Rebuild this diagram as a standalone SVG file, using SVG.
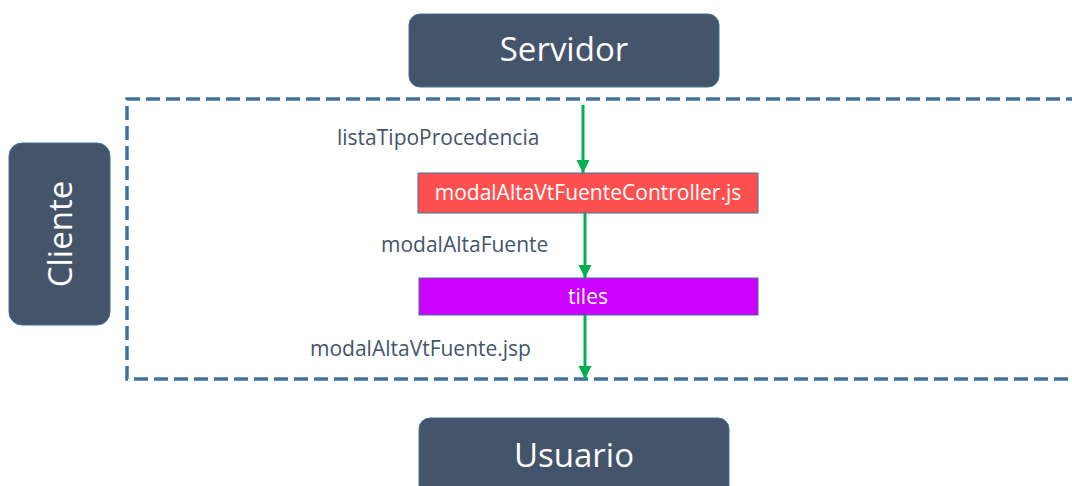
<svg xmlns="http://www.w3.org/2000/svg" width="1072" height="486" viewBox="0 0 1072 486">
<style>
.actor{fill:#44546A;stroke:#41719C;stroke-width:1}
.atext{fill:#fff;font-family:"Open Sans","Noto Sans",sans-serif;font-size:33px}
.lbl{fill:#44546A;font-family:"Open Sans","Noto Sans",sans-serif;font-size:21px}
.btext{fill:#fff;font-family:"Open Sans","Noto Sans",sans-serif;font-size:21px}
.flow{stroke:#00B050;stroke-width:3;fill:none}
</style>
<defs>
<marker id="ah" viewBox="0 0 10 10" refX="10" refY="5" markerWidth="4.5" markerHeight="4.5" markerUnits="strokeWidth" orient="auto">
<path d="M0,0 L10,5 L0,10 z" fill="#00B050"/>
</marker>
</defs>
<rect width="1072" height="486" fill="#fff"/>
<g id="cliente-zone">
<path d="M1080,99 L127,99 L127,379 L1080,379" fill="none" stroke="#41719C" stroke-width="3.5" stroke-dasharray="14,6"/>
</g>
<g id="servidor">
<rect class="actor" x="409" y="14" width="310" height="73" rx="11"/>
<text class="atext" x="564" y="61" text-anchor="middle">Servidor</text>
</g>
<g id="cliente">
<rect class="actor" x="9" y="143" width="101" height="182" rx="13"/>
<text class="atext" transform="translate(72,234) rotate(-90)" text-anchor="middle">Cliente</text>
</g>
<g id="usuario">
<rect class="actor" x="419" y="418" width="310" height="80" rx="11"/>
<text class="atext" x="574" y="467" text-anchor="middle">Usuario</text>
</g>
<g id="controller">
<rect x="418" y="173" width="340" height="40" fill="#FF5050" stroke="#41719C" stroke-width="1"/>
<text class="btext" x="588" y="200" text-anchor="middle">modalAltaVtFuenteController.js</text>
</g>
<g id="tiles">
<rect x="419" y="278" width="339" height="37" fill="#CC00FF" stroke="#41719C" stroke-width="1"/>
<text class="btext" x="588" y="304" text-anchor="middle">tiles</text>
</g>
<g id="connectors">
<line class="flow" x1="583" y1="105" x2="583" y2="173" marker-end="url(#ah)"/>
<line class="flow" x1="585" y1="213" x2="585" y2="278" marker-end="url(#ah)"/>
<line class="flow" x1="585" y1="315" x2="585" y2="379" marker-end="url(#ah)"/>
<text class="lbl" x="337" y="145">listaTipoProcedencia</text>
<text class="lbl" x="381" y="252">modalAltaFuente</text>
<text class="lbl" x="310" y="356">modalAltaVtFuente.jsp</text>
</g>
</svg>
